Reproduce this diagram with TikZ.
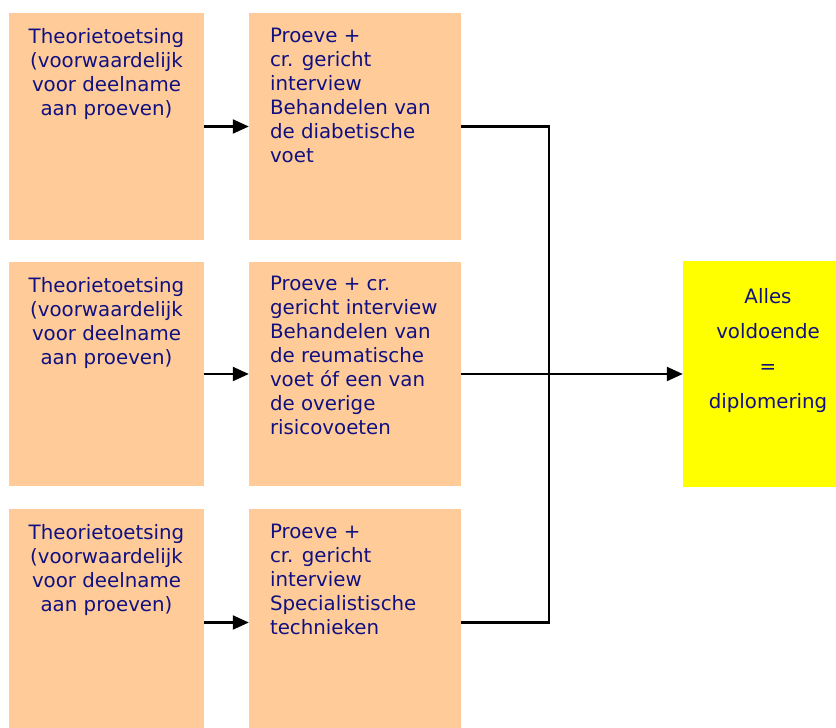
\documentclass[tikz,border=0pt]{standalone}
\usepackage{fontspec}
\setmainfont{DejaVu Sans}
\usepackage{xcolor}
\usetikzlibrary{arrows.meta,positioning}

\definecolor{peach}{RGB}{255,204,153}
\definecolor{endyellow}{RGB}{255,255,0}
\definecolor{navytext}{RGB}{16,16,128}

\begin{document}
\begin{tikzpicture}[
    x=1pt, y=-1pt,
    box/.style={rectangle, fill=peach, inner sep=0pt, minimum width=195pt, minimum height=227pt},
    proevebox/.style={box, minimum width=212pt},
    endbox/.style={rectangle, fill=endyellow, inner sep=0pt, minimum width=170pt, minimum height=226pt},
    txt/.style={inner sep=0pt, text=navytext, font=\fontsize{19.8}{24}\selectfont},
    line/.style={line width=2.2pt},
    arrow/.style={line, -{Triangle[length=16pt,width=14pt]}}
]
\useasboundingbox (0,0) rectangle (836,728);

% Theory tests
\node[box] (toets1) at (106.5, 126.5) {};
\node[box, minimum height=224pt] (toets2) at (106.5, 374) {};
\node[box] (toets3) at (106.5, 622.5) {};

% Practical tests
\node[proevebox] (proeve1) at (355, 126.5) {};
\node[proevebox, minimum height=224pt] (proeve2) at (355, 374) {};
\node[proevebox] (proeve3) at (355, 622.5) {};

% Result
\node[endbox] (diploma) at (768, 374) {};

% Texts
\node[txt, align=center, anchor=north, yshift=-15pt] at (toets1.north) {Theorietoetsing\\(voorwaardelijk\\voor deelname\\aan proeven)};
\node[txt, align=center, anchor=north, yshift=-15pt] at (toets2.north) {Theorietoetsing\\(voorwaardelijk\\voor deelname\\aan proeven)};
\node[txt, align=center, anchor=north, yshift=-15pt] at (toets3.north) {Theorietoetsing\\(voorwaardelijk\\voor deelname\\aan proeven)};
\node[txt, align=left, anchor=north west, xshift=21pt, yshift=-15pt] at (proeve1.north west) {Proeve +\\cr. gericht\\interview\\Behandelen van\\de diabetische\\voet};
\node[txt, align=left, anchor=north west, xshift=21pt, yshift=-14pt] at (proeve2.north west) {Proeve + cr.\\gericht interview\\Behandelen van\\de reumatische\\voet óf een van\\de overige\\risicovoeten};
\node[txt, align=left, anchor=north west, xshift=21pt, yshift=-15pt] at (proeve3.north west) {Proeve +\\cr. gericht\\interview\\Specialistische\\technieken};
\node[txt, font=\fontsize{19.8}{35}\selectfont, align=center, anchor=north, yshift=-27pt] at (diploma.north) {Alles\\voldoende\\=\\diplomering};

% Arrows
\draw[arrow] (toets1) -- (proeve1);
\draw[arrow] (toets2) -- (proeve2);
\draw[arrow] (toets3) -- (proeve3);

\coordinate (join) at (549, 374);
\draw[line] (proeve1.east) -| (join);
\draw[line] (proeve3.east) -| (join);
\draw[line] (proeve2) -- (join);
\draw[arrow] (join) -- (diploma);

\end{tikzpicture}
\end{document}
